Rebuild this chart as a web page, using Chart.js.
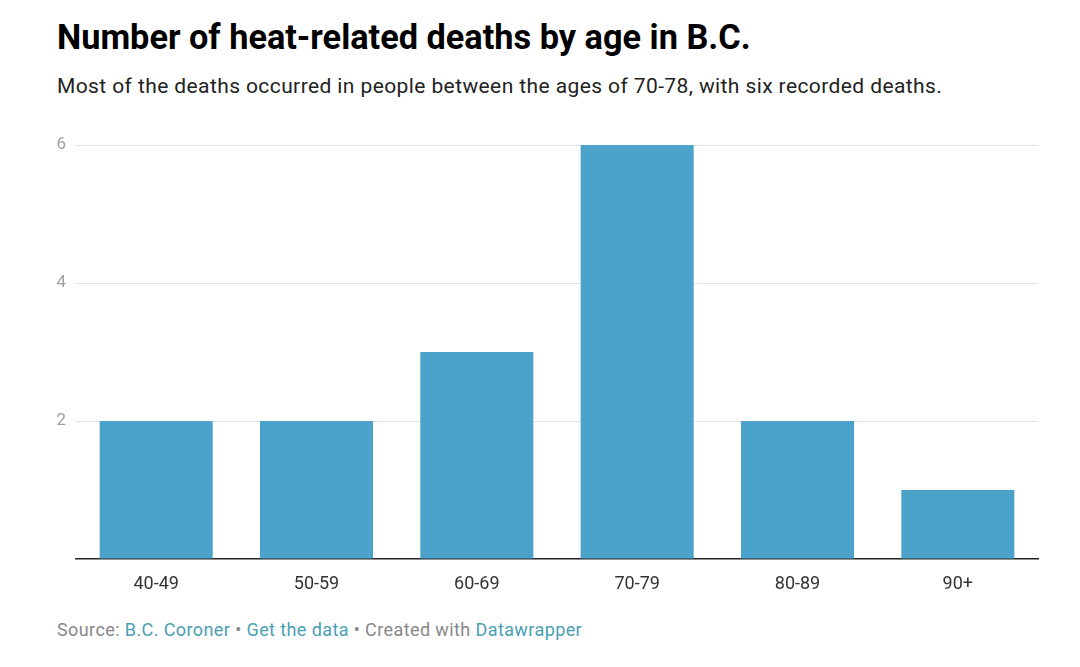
<!DOCTYPE html>
<html>
<head>
<meta charset="utf-8">
<script src="https://cdn.jsdelivr.net/npm/chart.js@4"></script>
<style>
  body { margin: 0; background: #fff; font-family: Roboto, sans-serif; }
  #wrap { position: relative; width: 1080px; height: 667px; }
  h1 { position: absolute; left: 57px; top: 20px; margin: 0; line-height: 1; font-size: 34.3px; font-weight: 700; color: #000; white-space: nowrap; }
  .sub { position: absolute; left: 57px; top: 76px; margin: 0; line-height: 1; font-size: 21px; letter-spacing: 0.4px; color: #222; white-space: nowrap; }
  .foot { position: absolute; left: 57px; top: 621px; margin: 0; line-height: 1; font-size: 18px; letter-spacing: 0.4px; color: #888; white-space: nowrap; }
  .foot span { color: #4a9fb5; }
  #box { position: absolute; left: 0; top: 120px; width: 1080px; height: 480px; }
</style>
</head>
<body>
<div id="wrap">
  <h1>Number of heat-related deaths by age in B.C.</h1>
  <p class="sub">Most of the deaths occurred in people between the ages of 70-78, with six recorded deaths.</p>
  <div id="box"><canvas id="chart"></canvas></div>
  <p class="foot">Source: <span>B.C. Coroner</span> • <span>Get the data</span> • Created with <span>Datawrapper</span></p>
</div>
<script>
const ageGroups = ["40-49", "50-59", "60-69", "70-79", "80-89", "90+"];
const deaths = [2, 2, 3, 6, 2, 1];
const yTicks = [2, 4, 6];

new Chart(document.getElementById("chart"), {
  type: "bar",
  data: {
    labels: ageGroups,
    datasets: [
      {
        data: deaths,
        backgroundColor: "#4ba2ca",
        barPercentage: 0.705,
        categoryPercentage: 1,
      },
    ],
  },
  options: {
    responsive: true,
    maintainAspectRatio: false,
    animation: false,
    layout: { padding: { top: 25, right: 42, bottom: 0, left: 0 } },
    plugins: { legend: { display: false }, tooltip: { enabled: false } },
    scales: {
      x: {
        grid: { display: false },
        border: { display: true, color: "#222", width: 1.5 },
        ticks: { color: "#333", font: { family: "Roboto", size: 18 }, padding: 7 },
        afterFit: (s) => { s.height = 41; },
      },
      y: {
        min: 0,
        max: 6,
        afterBuildTicks: (s) => { s.ticks = [0].concat(yTicks).map((v) => ({ value: v })); },
        grid: {
          drawTicks: false,
          color: (ctx) => (ctx.tick && ctx.tick.value === 0 ? "transparent" : "#e3e3e3"),
        },
        border: { display: false },
        ticks: {
          color: "#a0a0a0",
          font: { family: "Roboto", size: 17 },
          padding: 10,
          callback: (v) => (v === 0 ? "" : v),
        },
        afterFit: (s) => { s.width = 76; },
      },
    },
  },
});
</script>
</body>
</html>
